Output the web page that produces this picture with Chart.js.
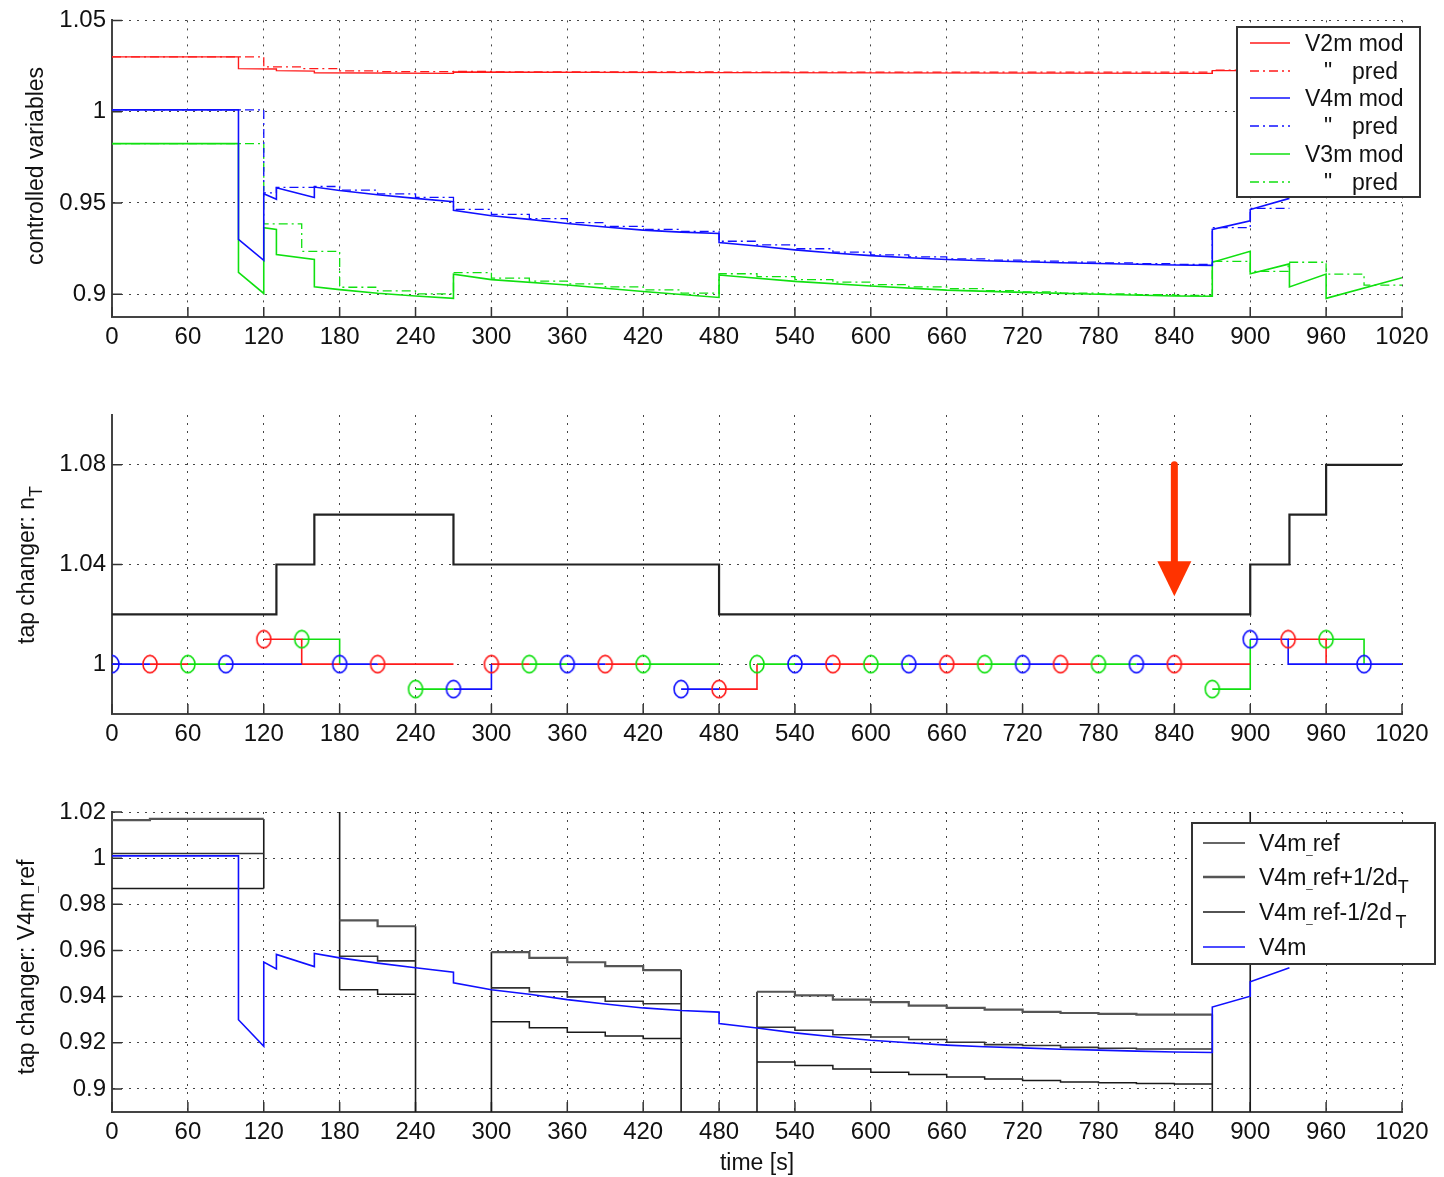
<!DOCTYPE html>
<html><head><meta charset="utf-8">
<script src="https://cdn.jsdelivr.net/npm/chart.js@4.4.1/dist/chart.umd.min.js"></script>
<style>
html,body{margin:0;padding:0;background:#fff;}
#wrap{position:relative;width:1444px;height:1177px;overflow:hidden;background:#fff;}
canvas{position:absolute;left:0;}
</style></head><body>
<div id="wrap">
<canvas id="c1" width="1444" height="360" style="top:0px"></canvas>
<canvas id="c2" width="1444" height="400" style="top:360px"></canvas>
<canvas id="c3" width="1444" height="417" style="top:760px"></canvas>
</div>
<script>
// ---------------- DATA ----------------
const timeTicks = [0,60,120,180,240,300,360,420,480,540,600,660,720,780,840,900,960,1020];
const topTicks = [0.9,0.95,1,1.05];
const midTicks = [1,1.04,1.08];
const botTicks = [0.9,0.92,0.94,0.96,0.98,1,1.02];

// top panel: [time, value]
const V2m_mod = [[0,1.030],[100,1.030],[100,1.0236],[130,1.0234],[130,1.0225],[160,1.0222],[160,1.0213],[270,1.0210],[270,1.0217],[480,1.0214],[870,1.0210],[870,1.0225],[1020,1.0225]];
const V2m_pred = [[0,1.030],[120,1.0245],[150,1.0236],[180,1.0224],[210,1.0219],[270,1.0220],[300,1.0218],[480,1.0217],[870,1.0227],[1020,1.0227]];
const V4m = [[0,1.001],[100,1.001],[100,0.930],[120,0.9185],[120,0.955],[130,0.952],[130,0.9583],[160,0.953],[160,0.9587],[180,0.9568],[210,0.9545],[240,0.9525],[270,0.9506],[270,0.946],[300,0.943],[330,0.941],[360,0.9387],[390,0.9368],[420,0.9351],[450,0.934],[480,0.9333],[480,0.9283],[510,0.9264],[540,0.9243],[570,0.9226],[600,0.9211],[630,0.920],[660,0.919],[690,0.9183],[720,0.9178],[750,0.9172],[780,0.9168],[810,0.9164],[840,0.916],[870,0.9158],[870,0.9355],[900,0.9402],[900,0.9464],[931,0.9525]];
const V4m_pred = [[0,1.001],[120,0.9555],[130,0.9585],[160,0.9590],[180,0.9570],[210,0.9550],[240,0.9530],[270,0.9465],[300,0.9437],[330,0.9414],[360,0.9392],[390,0.9372],[420,0.9355],[450,0.9344],[480,0.9290],[510,0.9270],[540,0.9249],[570,0.9230],[600,0.9215],[630,0.9204],[660,0.9194],[690,0.9187],[720,0.9181],[750,0.9176],[780,0.9171],[810,0.9167],[840,0.9163],[870,0.9365],[900,0.9470],[931,0.9470]];
const V3m_mod = [[0,0.9825],[100,0.9825],[100,0.912],[120,0.9004],[120,0.9364],[130,0.9355],[130,0.9217],[160,0.919],[160,0.904],[180,0.9025],[210,0.9005],[240,0.899],[270,0.8977],[270,0.911],[300,0.908],[360,0.905],[420,0.9015],[480,0.8982],[480,0.9105],[540,0.907],[600,0.9045],[660,0.9022],[720,0.901],[780,0.900],[840,0.899],[870,0.8989],[870,0.9175],[900,0.9235],[900,0.9112],[931,0.9166],[931,0.904],[960,0.911],[960,0.8977],[1020,0.909]];
const V3m_pred = [[0,0.9825],[120,0.9385],[150,0.9235],[180,0.9038],[210,0.9018],[240,0.9002],[270,0.9118],[300,0.9088],[330,0.9072],[360,0.9056],[390,0.9040],[420,0.9024],[450,0.9006],[480,0.9112],[510,0.9096],[540,0.9080],[570,0.9066],[600,0.9052],[630,0.9040],[660,0.9030],[690,0.9020],[720,0.9013],[750,0.9006],[780,0.9001],[810,0.8997],[840,0.8994],[870,0.9180],[900,0.9125],[930,0.9175],[960,0.9110],[990,0.9050],[1020,0.9050]];

// middle panel: tap changer position n_T
const nT = [[0,1.02],[130,1.04],[160,1.06],[270,1.04],[480,1.02],[900,1.04],[931,1.06],[960,1.08],[1020,1.08]];
const redLine = [[30,1],[60,1],null,[120,1.01],[150,1.01],[150,1],[180,1],null,[210,1],[270,1],null,[300,1],[330,1],null,[390,1],[420,1],null,[480,0.99],[510,0.99],[510,1],null,[570,1],[600,1],null,[660,1],[690,1],null,[750,1],[780,1],null,[840,1],[900,1],null,[930,1.01],[960,1.01],[960,1]];
const greenLine = [[60,1],[90,1],null,[150,1.01],[180,1.01],[180,1],null,[240,0.99],[270,0.99],null,[330,1],[360,1],null,[420,1],[480,1],null,[510,1],[540,1],null,[600,1],[630,1],null,[690,1],[720,1],null,[780,1],[810,1],null,[870,0.99],[900,0.99],[900,1.01],null,[960,1.01],[990,1.01],[990,1]];
const blueLine = [[0,1],[30,1],null,[90,1],[150,1],null,[180,1],[210,1],null,[270,0.99],[300,0.99],[300,1],null,[360,1],[390,1],null,[450,0.99],[480,0.99],null,[540,1],[570,1],null,[630,1],[660,1],null,[720,1],[750,1],null,[810,1],[840,1],null,[900,1.01],[930,1.01],[930,1],[1020,1]];
const blueMarks = [[0,1],[90,1],[180,1],[270,0.99],[360,1],[450,0.99],[540,1],[630,1],[720,1],[810,1],[900,1.01],[990,1]];
const redMarks = [[30,1],[120,1.01],[210,1],[300,1],[390,1],[480,0.99],[570,1],[660,1],[750,1],[840,1],[930,1.01]];
const greenMarks = [[60,1],[150,1.01],[240,0.99],[330,1],[420,1],[510,1],[600,1],[690,1],[780,1],[870,0.99],[960,1.01]];
const arrowT = 840, arrowFrom = 1.08, arrowTo = 1.0273;

// bottom panel: V4m reference band
const refPlus = [[0,1.0165],[30,1.017],[120,1.017],null,[180,0.973],[210,0.9705],[240,0.9705],null,[300,0.9593],[330,0.9568],[360,0.9549],[390,0.9532],[420,0.9515],[450,0.9515],null,[510,0.9421],[540,0.9405],[570,0.9387],[600,0.9376],[630,0.9361],[660,0.9351],[690,0.9344],[720,0.9334],[750,0.9329],[780,0.9325],[810,0.9322],[870,0.9322]];
const refMid = [[0,1.002],[120,1.002],null,[180,0.9575],[210,0.9555],[240,0.9555],null,[300,0.9438],[330,0.9421],[360,0.9399],[390,0.938],[420,0.9369],[450,0.9369],null,[510,0.9267],[540,0.9254],[570,0.9235],[600,0.9225],[630,0.9214],[660,0.9202],[690,0.9192],[720,0.9188],[750,0.918],[780,0.9176],[810,0.9173],[870,0.9173]];
const refMinus = [[0,0.9869],[120,0.9869],null,[180,0.943],[210,0.941],[240,0.941],null,[300,0.9291],[330,0.9265],[360,0.9246],[390,0.9229],[420,0.9218],[450,0.9218],null,[510,0.9117],[540,0.9102],[570,0.9086],[600,0.9072],[630,0.9062],[660,0.9052],[690,0.9043],[720,0.9037],[750,0.903],[780,0.9027],[810,0.9023],[840,0.9021],[870,0.9021]];
const refEdges = [[120,1.017],[120,0.9869],null,[180,1.03],[180,0.943],null,[240,0.9705],[240,0.88],null,[300,0.88],[300,0.9593],null,[450,0.9515],[450,0.88],null,[510,0.88],[510,0.9421],null,[870,0.9322],[870,0.88],null,[900,0.88],[900,1.03]];

// ---------------- HELPERS ----------------
const FONT = '"Liberation Sans", Arial, Helvetica, sans-serif';
const RED='#ff1a1a', BLUE='#1010ff', GREEN='#10e010', BLACK='#222';
const DASHDOT=[9,4,2,4];
const TICKSIZE=24;

function P(arr){ let lx=0; return arr.map(p=>{ if(p===null) return {x:lx,y:null}; lx=p[0]; return {x:p[0],y:p[1]}; }); }
function line(arr,color,width,dash,stepped){
  return {data:P(arr),borderColor:color,borderWidth:width,borderDash:dash||[],pointRadius:0,fill:false,stepped:stepped||false,tension:0,spanGaps:false};
}
function ellipseImg(color){
  const c=document.createElement('canvas'); c.width=18; c.height=20;
  const g=c.getContext('2d'); g.strokeStyle=color; g.lineWidth=1.6;
  g.beginPath(); g.ellipse(9,10,7,8.6,0,0,Math.PI*2); g.stroke(); return c;
}
function marks(arr,color){
  return {data:P(arr),showLine:false,pointStyle:ellipseImg(color),pointRadius:8,borderColor:color,backgroundColor:'rgba(0,0,0,0)'};
}
function xAxis(h){ return {
  type:'linear',min:0,max:1020,
  afterBuildTicks:s=>{s.ticks=timeTicks.map(v=>({value:v}));},
  ticks:{font:{family:FONT,size:TICKSIZE},color:'#111',padding:6,maxRotation:0,minRotation:0,autoSkip:false,callback:v=>String(v)},
  grid:{color:'#444',lineWidth:1,drawTicks:false},
  border:{display:true,color:'#444',width:2,dash:[2,6]},
  afterFit:s=>{s.height=h;}
};}
function yAxis(min,max,ticks){ return {
  type:'linear',min:min,max:max,
  afterBuildTicks:s=>{s.ticks=ticks.map(v=>({value:v}));},
  ticks:{font:{family:FONT,size:TICKSIZE},color:'#111',padding:6,callback:v=>String(parseFloat(Number(v).toFixed(3)))},
  grid:{color:'#444',lineWidth:1,drawTicks:false},
  border:{display:true,color:'#444',width:2,dash:[2,6]},
  afterFit:s=>{s.width=112;}
};}
function drawRich(ctx,parts,x,y,size,align){
  const sz=k=>k==='sub'?size*0.78:k==='usc'?size*0.5:size;
  const off=k=>k==='sub'?size*0.36:k==='usc'?size*0.12:0;
  let total=0;
  parts.forEach(p=>{ctx.font=sz(p[1])+'px '+FONT; total+=ctx.measureText(p[0]).width;});
  let cx=align==='center'?x-total/2:align==='right'?x-total:x;
  ctx.textBaseline='alphabetic'; ctx.textAlign='left';
  parts.forEach(p=>{ctx.font=sz(p[1])+'px '+FONT; ctx.fillText(p[0],cx,y+off(p[1])); cx+=ctx.measureText(p[0]).width;});
}
const inwardTicks={id:'inwardTicks',beforeDatasetsDraw(chart){
  const {ctx,chartArea:a,scales:{x,y}}=chart;
  ctx.save(); ctx.strokeStyle='#333'; ctx.lineWidth=1.5; ctx.beginPath();
  x.ticks.forEach(t=>{const px=x.getPixelForValue(t.value); ctx.moveTo(px,a.bottom); ctx.lineTo(px,a.bottom-10);});
  y.ticks.forEach(t=>{const py=y.getPixelForValue(t.value); ctx.moveTo(a.left,py); ctx.lineTo(a.left+10,py);});
  ctx.stroke(); ctx.restore();
}};
function titles(list){ return {id:'titles',afterDraw(chart){
  const ctx=chart.ctx; ctx.save(); ctx.fillStyle='#111';
  list.forEach(t=>{ ctx.save(); ctx.translate(t.x,t.y); if(t.rot) ctx.rotate(-Math.PI/2); drawRich(ctx,t.parts,0,0,t.size,'center'); ctx.restore(); });
  ctx.restore();
}};}
function boxLegend(box,items){ return {id:'boxLegend',afterDatasetsDraw(chart){
  const ctx=chart.ctx; ctx.save();
  ctx.fillStyle='#fff'; ctx.fillRect(box.x1,box.y1,box.x2-box.x1,box.y2-box.y1);
  ctx.strokeStyle='#333'; ctx.lineWidth=2; ctx.strokeRect(box.x1,box.y1,box.x2-box.x1,box.y2-box.y1);
  items.forEach(it=>{
    ctx.beginPath(); ctx.strokeStyle=it.color; ctx.lineWidth=it.width; ctx.setLineDash(it.dash||[]);
    ctx.moveTo(box.lx1,it.y); ctx.lineTo(box.lx2,it.y); ctx.stroke(); ctx.setLineDash([]);
    ctx.fillStyle='#111';
    it.texts.forEach(tx=>drawRich(ctx,tx.parts,tx.x,it.y+8,box.size,'left'));
  });
  ctx.restore();
}};}
const arrowPlugin={id:'arrow',afterDatasetsDraw(chart){
  const {ctx,scales:{x,y}}=chart;
  const px=x.getPixelForValue(arrowT), yTop=y.getPixelForValue(arrowFrom), yTip=y.getPixelForValue(arrowTo);
  const headH=35, headW=17;
  ctx.save(); ctx.strokeStyle='#ff3300'; ctx.fillStyle='#ff3300'; ctx.lineWidth=7; ctx.lineCap='round';
  ctx.beginPath(); ctx.moveTo(px,yTop); ctx.lineTo(px,yTip-headH+2); ctx.stroke();
  ctx.beginPath(); ctx.moveTo(px-headW,yTip-headH); ctx.lineTo(px+headW,yTip-headH); ctx.lineTo(px,yTip); ctx.closePath(); ctx.fill();
  ctx.restore();
}};
function baseOpts(scales,pad){ return {responsive:false,animation:false,events:[],
  layout:{padding:pad},
  plugins:{legend:{display:false},tooltip:{enabled:false}},
  scales:scales};}

// ---------------- CHART 1 ----------------
new Chart(document.getElementById('c1'),{type:'line',
  data:{datasets:[
    line(V4m,BLUE,1.6),
    line(V3m_mod,GREEN,1.6),
    line(V2m_mod,RED,1.4),
    line(V4m_pred,BLUE,1.3,DASHDOT,true),
    line(V3m_pred,GREEN,1.3,DASHDOT,true),
    line(V2m_pred,RED,1.3,DASHDOT,true)
  ]},
  options:baseOpts({x:xAxis(43),y:yAxis(0.8875,1.05,topTicks)},{left:0,right:42,top:17,bottom:0}),
  plugins:[inwardTicks,
    titles([{x:43,y:166,rot:true,size:23,parts:[['controlled variables']]}]),
    boxLegend({x1:1237,y1:27,x2:1420,y2:197,lx1:1250,lx2:1290,size:23},[
      {y:43,color:RED,width:1.6,texts:[{x:1305,parts:[['V2m mod']]}]},
      {y:71,color:RED,width:1.3,dash:DASHDOT,texts:[{x:1324,parts:[['"']]},{x:1352,parts:[['pred']]}]},
      {y:98,color:BLUE,width:1.6,texts:[{x:1305,parts:[['V4m mod']]}]},
      {y:126,color:BLUE,width:1.3,dash:DASHDOT,texts:[{x:1324,parts:[['"']]},{x:1352,parts:[['pred']]}]},
      {y:154,color:GREEN,width:1.6,texts:[{x:1305,parts:[['V3m mod']]}]},
      {y:182,color:GREEN,width:1.3,dash:DASHDOT,texts:[{x:1324,parts:[['"']]},{x:1352,parts:[['pred']]}]}
    ])]
});

// ---------------- CHART 2 ----------------
new Chart(document.getElementById('c2'),{type:'line',
  data:{datasets:[
    marks(blueMarks,BLUE),
    marks(redMarks,RED),
    marks(greenMarks,GREEN),
    line(blueLine,BLUE,1.6),
    line(redLine,RED,1.6),
    line(greenLine,GREEN,1.6),
    line(nT,BLACK,2.2,[],true)
  ]},
  options:baseOpts({x:xAxis(46),y:yAxis(0.98,1.10,midTicks)},{left:0,right:42,top:55,bottom:0}),
  plugins:[inwardTicks,arrowPlugin,
    titles([{x:34,y:205,rot:true,size:23,parts:[['tap changer: n'],['T','sub']]}])]
});

// ---------------- CHART 3 ----------------
new Chart(document.getElementById('c3'),{type:'line',
  data:{datasets:[
    line(V4m,BLUE,1.6),
    line(refMid,'#333',1.6,[],true),
    line(refPlus,'#555',2.2,[],true),
    line(refMinus,'#1a1a1a',1.5,[],true),
    line(refEdges,'#1a1a1a',1.6)
  ]},
  options:baseOpts({x:xAxis(65),y:yAxis(0.89,1.02,botTicks)},{left:0,right:42,top:52,bottom:0}),
  plugins:[inwardTicks,
    titles([{x:34,y:207,rot:true,size:23,parts:[['tap changer: V4m'],['_','usc'],['ref']]},
            {x:757,y:410,rot:false,size:23,parts:[['time [s]']]}]),
    boxLegend({x1:1192,y1:63,x2:1435,y2:204,lx1:1203,lx2:1245,size:23},[
      {y:83,color:'#333',width:1.6,texts:[{x:1259,parts:[['V4m'],['_','usc'],['ref']]}]},
      {y:117,color:'#555',width:2.4,texts:[{x:1259,parts:[['V4m'],['_','usc'],['ref+1/2d'],['T','sub']]}]},
      {y:152,color:'#1a1a1a',width:1.5,texts:[{x:1259,parts:[['V4m'],['_','usc'],['ref-1/2d'],['\u2009T','sub']]}]},
      {y:187,color:BLUE,width:1.6,texts:[{x:1259,parts:[['V4m']]}]}
    ])]
});
</script>
</body></html>
